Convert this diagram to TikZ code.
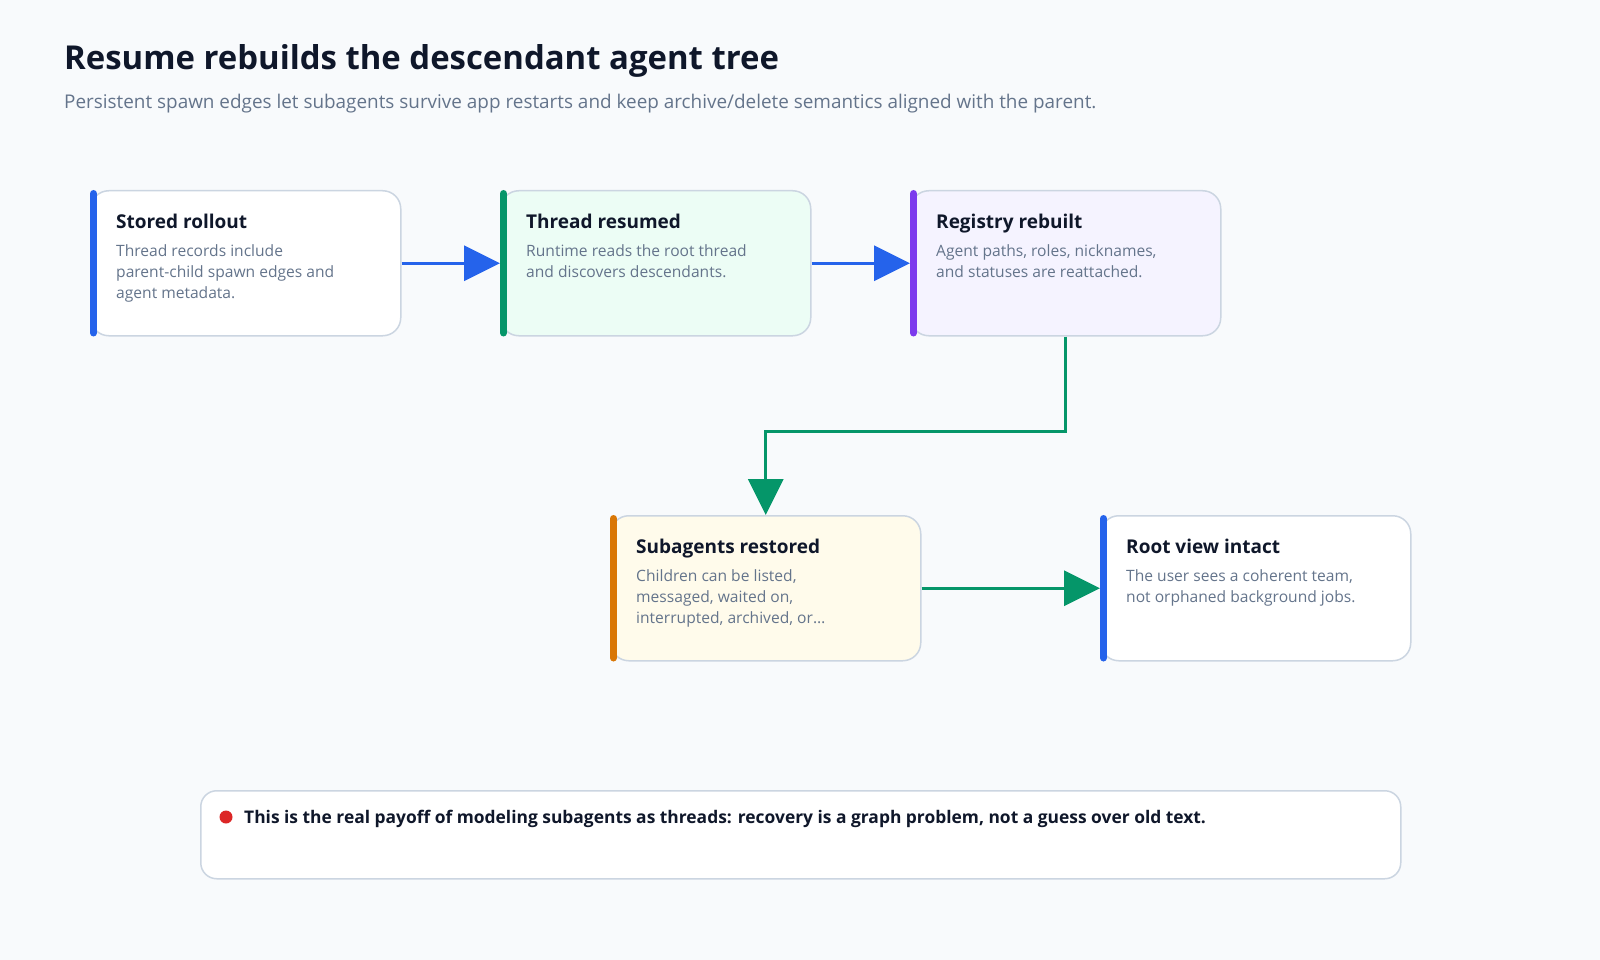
\documentclass[tikz,border=0pt]{standalone}
\usepackage{fontspec}
\setmainfont{Open Sans}
\usetikzlibrary{arrows.meta}
\definecolor{bg}{HTML}{F8FAFC}
\definecolor{ink}{HTML}{0F172A}
\definecolor{muted}{HTML}{64748B}
\definecolor{edge}{HTML}{CBD5E1}
\definecolor{cblue}{HTML}{2563EB}
\definecolor{cgreen}{HTML}{059669}
\definecolor{cpurple}{HTML}{7C3AED}
\definecolor{corange}{HTML}{D97706}
\definecolor{cred}{HTML}{DC2626}
\definecolor{fgreen}{HTML}{ECFDF5}
\definecolor{fpurple}{HTML}{F5F3FF}
\definecolor{fyellow}{HTML}{FFFBEB}
\tikzset{
  card/.style={draw=edge, line width=1.5pt, rounded corners=18pt, minimum width=310pt, minimum height=145pt, anchor=north west, inner sep=0pt},
  accentbar/.style={line width=7pt, line cap=round},
  cardtitle/.style={anchor=base west, inner sep=0pt, text=ink, font=\fontsize{19}{22}\selectfont\bfseries},
  carddesc/.style={anchor=north west, inner sep=0pt, text=muted, align=left, font=\fontsize{15.6}{21}\selectfont},
  flow/.style={line width=3pt, -{Triangle[length=36pt,width=35pt]}},
}
\begin{document}
\begin{tikzpicture}[x=1pt,y=-1pt]
\fill[bg] (0,0) rectangle (1600,960);
\useasboundingbox (0,0) rectangle (1600,960);

\node[anchor=base west, inner sep=0pt, text=ink, font=\fontsize{32.9}{38}\selectfont\bfseries] (title) at (64,70) {Resume rebuilds the descendant agent tree};
\node[anchor=base west, inner sep=0pt, text=muted, font=\fontsize{18.9}{22}\selectfont] (subtitle) at (64,109) {Persistent spawn edges let subagents survive app restarts and keep archive/delete semantics aligned with the parent.};

% cards
\node[card, fill=white] (b1) at (90,190) {};
\node[card, fill=fgreen] (b2) at (500,190) {};
\node[card, fill=fpurple] (b3) at (910,190) {};
\node[card, fill=fyellow] (b4) at (610,515) {};
\node[card, fill=white] (b5) at (1100,515) {};

\draw[accentbar, cblue] ([xshift=3.5pt,yshift=-3.5pt]b1.north west) -- ([xshift=3.5pt,yshift=3.5pt]b1.south west);
\draw[accentbar, cgreen] ([xshift=3.5pt,yshift=-3.5pt]b2.north west) -- ([xshift=3.5pt,yshift=3.5pt]b2.south west);
\draw[accentbar, cpurple] ([xshift=3.5pt,yshift=-3.5pt]b3.north west) -- ([xshift=3.5pt,yshift=3.5pt]b3.south west);
\draw[accentbar, corange] ([xshift=3.5pt,yshift=-3.5pt]b4.north west) -- ([xshift=3.5pt,yshift=3.5pt]b4.south west);
\draw[accentbar, cblue] ([xshift=3.5pt,yshift=-3.5pt]b5.north west) -- ([xshift=3.5pt,yshift=3.5pt]b5.south west);

\node[cardtitle] (t1) at (116,228) {Stored rollout};
\node[carddesc] (d1) at (116,244) {Thread records include\\parent-child spawn edges and\\agent metadata.};
\node[cardtitle] (t2) at (526,228) {Thread resumed};
\node[carddesc] (d2) at (526,244) {Runtime reads the root thread\\and discovers descendants.};
\node[cardtitle] (t3) at (936,228) {Registry rebuilt};
\node[carddesc] (d3) at (936,244) {Agent paths, roles, nicknames,\\and statuses are reattached.};
\node[cardtitle] (t4) at (636,553) {Subagents restored};
\node[carddesc] (d4) at (636,569) {Children can be listed,\\messaged, waited on,\\interrupted, archived, or\ldots};
\node[cardtitle] (t5) at (1126,553) {Root view intact};
\node[carddesc] (d5) at (1126,569) {The user sees a coherent team,\\not orphaned background jobs.};

% connectors
\draw[flow, cblue] (b1.east) -- (b2.west);
\draw[flow, cblue] (b2.east) -- (b3.west);
\draw[flow, cgreen] (b3.south) -- ++(0,95) -| (b4.north);
\draw[flow, cgreen] (b4.east) -- (b5.west);

% note
\node[draw=edge, line width=1.5pt, fill=white, rounded corners=16pt, minimum width=1200pt, minimum height=88pt, anchor=north west, inner sep=0pt] (note) at (200,790) {};
\fill[cred] (226,817) circle (6.5pt);
\node[anchor=base west, inner sep=0pt, text=ink, font=\fontsize{17.4}{20}\selectfont\bfseries] (notetext) at (244,823) {This is the real payoff of modeling subagents as threads: recovery is a graph problem, not a guess over old text.};
\end{tikzpicture}
\end{document}
